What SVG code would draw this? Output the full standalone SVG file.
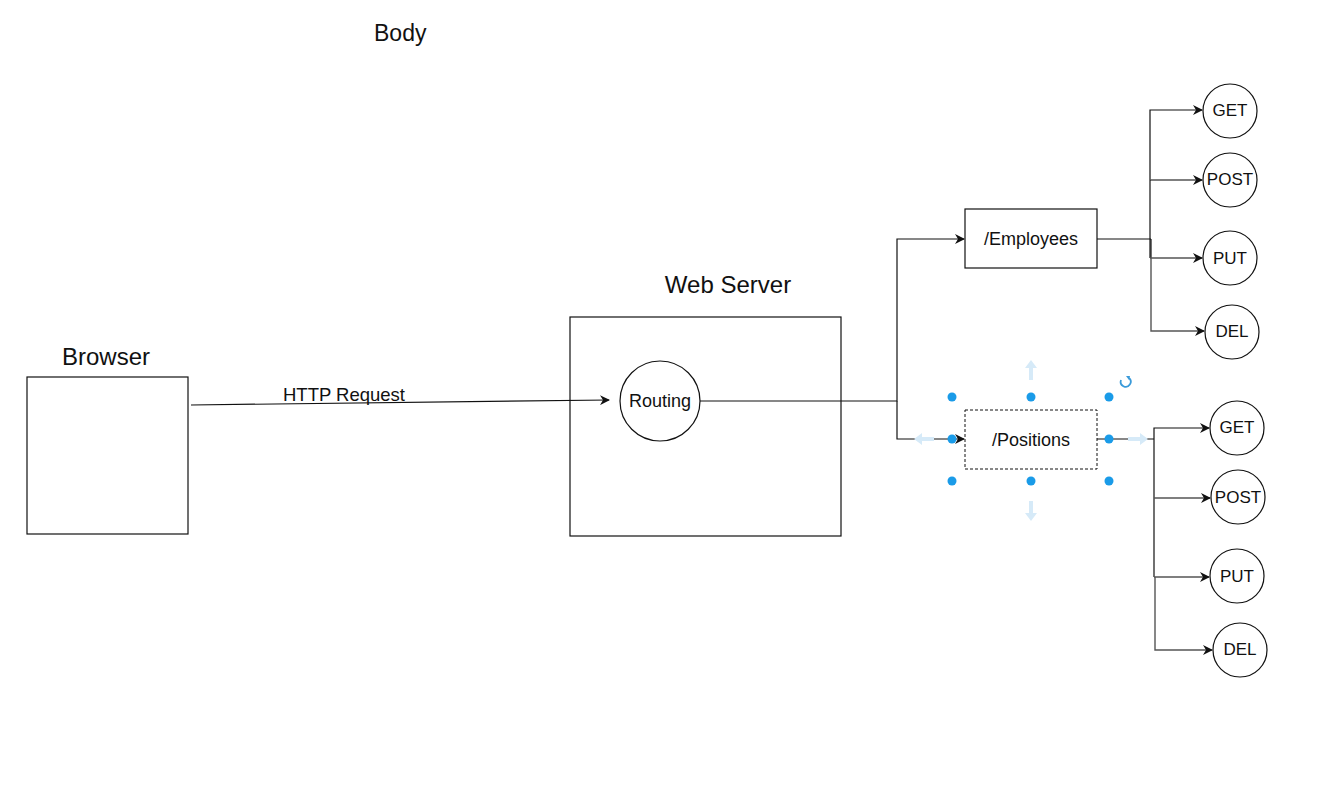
<svg xmlns="http://www.w3.org/2000/svg" width="1321" height="786" viewBox="0 0 1321 786">
<style>
text{font-family:Arial,"Liberation Sans",sans-serif;fill:#111}
.lbl{font-size:24px}
.nt{font-size:18px;text-anchor:middle;dominant-baseline:central}
.ct{font-size:17px;text-anchor:middle;dominant-baseline:central}
.box{fill:#fff;stroke:#111;stroke-width:1.2}
.ln{fill:none;stroke:#111;stroke-width:1.2}
.ln2{fill:none;stroke:#555;stroke-width:1.4}
.h{fill:#1a9be8}
.ha{fill:#d6eaf8}
</style>
<defs>
<marker id="ar" viewBox="0 0 10 10" refX="9" refY="5" markerWidth="10" markerHeight="10" markerUnits="userSpaceOnUse" orient="auto">
<path d="M0,0 L10,5 L0,10 L3,5 z" fill="#111"/>
</marker>
</defs>
<rect width="1321" height="786" fill="#fff"/>
<text x="374" y="41" font-size="23">Body</text>

<g id="browser">
<text class="lbl" x="62" y="365">Browser</text>
<rect class="box" x="27" y="377" width="161" height="157"/>
</g>

<g id="webserver">
<text class="lbl" x="728" y="293" text-anchor="middle">Web Server</text>
<rect class="box" x="570" y="317" width="271" height="219"/>
</g>

<g id="routing">
<circle class="box" cx="660" cy="401" r="40"/>
<text class="nt" x="660" y="401">Routing</text>
</g>

<g id="employees">
<rect class="box" x="965" y="209" width="132" height="59"/>
<text class="nt" x="1031" y="239">/Employees</text>
</g>

<g id="positions">
<rect x="965" y="410" width="132" height="59" fill="#fff" stroke="#111" stroke-width="1" stroke-dasharray="3 2"/>
<text class="nt" x="1031" y="440">/Positions</text>
</g>

<g id="emp-get"><circle class="box" cx="1230" cy="111" r="27"/><text class="ct" x="1230" y="110">GET</text></g>
<g id="emp-post"><circle class="box" cx="1230" cy="180" r="27"/><text class="ct" x="1230" y="179">POST</text></g>
<g id="emp-put"><circle class="box" cx="1230" cy="258" r="27"/><text class="ct" x="1230" y="258">PUT</text></g>
<g id="emp-del"><circle class="box" cx="1232" cy="332" r="27"/><text class="ct" x="1232" y="331">DEL</text></g>

<g id="pos-get"><circle class="box" cx="1237" cy="428" r="27"/><text class="ct" x="1237" y="427">GET</text></g>
<g id="pos-post"><circle class="box" cx="1238" cy="497" r="27"/><text class="ct" x="1238" y="497">POST</text></g>
<g id="pos-put"><circle class="box" cx="1237" cy="576" r="27"/><text class="ct" x="1237" y="576">PUT</text></g>
<g id="pos-del"><circle class="box" cx="1240" cy="650" r="27"/><text class="ct" x="1240" y="649">DEL</text></g>

<g id="connectors">
<path class="ln" d="M191,405 L609,400" marker-end="url(#ar)"/>
<text x="344" y="401" font-size="18.5" text-anchor="middle">HTTP Request</text>
<path class="ln" d="M700,401 H897 V239 H964" marker-end="url(#ar)"/>
<path class="ln" d="M897,401 V439 H964" marker-end="url(#ar)"/>

<path class="ln" d="M1097,239 H1151" stroke-width="2"/>
<path class="ln" d="M1151,239 V258" stroke-width="2"/>
<path class="ln" d="M1150,180 V110 H1202" marker-end="url(#ar)"/>
<path class="ln2" d="M1150,180 H1202" marker-end="url(#ar)"/>
<path class="ln" d="M1150,180 V258"/>
<path class="ln2" d="M1150,258 H1202" marker-end="url(#ar)"/>
<path class="ln2" d="M1151,258 V331 H1204" marker-end="url(#ar)"/>

<path class="ln" d="M1097,439 H1154" stroke-width="2"/>
<path class="ln" d="M1154,439 V577" stroke-width="1.8"/>
<path class="ln" d="M1154,439 V428 H1209" marker-end="url(#ar)"/>
<path class="ln2" d="M1154,498 H1210" marker-end="url(#ar)"/>
<path class="ln2" d="M1154,577 H1209" marker-end="url(#ar)"/>
<path class="ln2" d="M1155,577 V650 H1212" marker-end="url(#ar)"/>
</g>

<g id="selection-handles">
<path class="ha" d="M1031,360 l-6,8 h4 v12 h4 v-12 h4 z"/>
<path class="ha" d="M1031,521 l-6,-8 h4 v-12 h4 v12 h4 z"/>
<path class="ha" d="M914,439 l8,-6 v4 h12 v4 h-12 v4 z"/>
<path class="ha" d="M1148,439 l-8,-6 v4 h-12 v4 h12 v4 z"/>
<circle class="h" cx="952" cy="397" r="4.5"/>
<circle class="h" cx="1031" cy="397" r="4.5"/>
<circle class="h" cx="1109" cy="397" r="4.5"/>
<circle class="h" cx="952" cy="439" r="4.5"/>
<circle class="h" cx="1109" cy="439" r="4.5"/>
<circle class="h" cx="952" cy="481" r="4.5"/>
<circle class="h" cx="1031" cy="481" r="4.5"/>
<circle class="h" cx="1109" cy="481" r="4.5"/>
<path d="M1129,378 A5,5 0 1 1 1121,380" fill="none" stroke="#3a9ad9" stroke-width="1.8"/>
<path d="M1126,376 l4,0 l-1,4 z" fill="#3a9ad9"/>
</g>
</svg>
